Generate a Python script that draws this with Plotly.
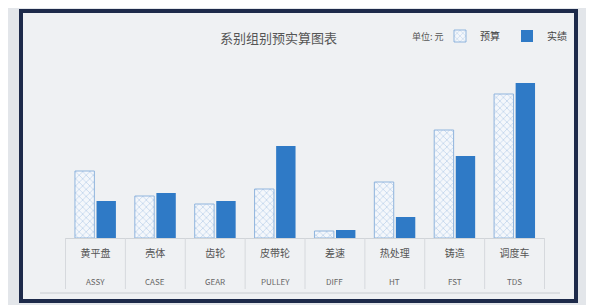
import plotly.graph_objects as go

title_text = "系别组别预实算图表"
unit_text = "单位: 元"
codes = ["ASSY", "CASE", "GEAR", "PULLEY", "DIFF", "HT", "FST", "TDS"]
names = ["黄平盘", "壳体", "齿轮", "皮带轮", "差速", "热处理", "铸造", "调度车"]
budget = [67, 42, 34, 49, 7, 56, 108, 144]
actual = [37, 45, 37, 92, 8, 21, 82, 155]

# page has 8px body margin: figure is drawn from (8,8)
OFF = 8
W, H = 594 - OFF, 305 - OFF


def fx(px):
    return (px - OFF) / W


def fy(py):
    return 1 - (py - OFF) / H


fig = go.Figure()
fig.add_trace(go.Bar(
    x=names, y=budget, name="预算",
    marker=dict(color="#f4f7fb", line=dict(color="#8fb4dd", width=1),
                pattern=dict(shape="x", fgcolor="#7fa9d8", size=5, solidity=0.25)),
))
fig.add_trace(go.Bar(
    x=names, y=actual, name="实绩",
    marker=dict(color="#2f7ac6", line=dict(width=0)),
))

base_y = 238
shapes = [
    dict(type="rect", xref="paper", yref="paper", x0=fx(21), x1=fx(576),
         y0=fy(301), y1=fy(11), line=dict(color="#1d2a4a", width=4),
         fillcolor="#eff1f3", layer="below"),
    dict(type="line", xref="paper", yref="paper", x0=fx(40), x1=fx(560),
         y0=fy(293), y1=fy(293), line=dict(color="#c8ccd0", width=1)),
]
for i in range(len(names) + 1):
    shapes.append(dict(type="line", xref="x", yref="paper", x0=i - 0.5, x1=i - 0.5,
                       y0=fy(289), y1=fy(base_y), line=dict(color="#d6d9dd", width=1)))

annotations = [
    dict(text=title_text, xref="paper", yref="paper", x=fx(278), y=fy(37),
         xanchor="center", yanchor="middle",
         showarrow=False, font=dict(size=13, color="#555")),
    dict(text=unit_text, xref="paper", yref="paper", x=fx(446), y=fy(36),
         xanchor="right", yanchor="middle", showarrow=False,
         font=dict(size=9, color="#555")),
]
for c, n in zip(codes, names):
    annotations.append(dict(text=c, xref="x", yref="paper", x=n, y=fy(281),
                            xanchor="center", yanchor="middle",
                            showarrow=False, font=dict(size=8, color="#666")))

fig.update_layout(
    width=W, height=H,
    margin=dict(l=0, r=0, t=0, b=0),
    paper_bgcolor="#e3e6ea",
    plot_bgcolor="rgba(0,0,0,0)",
    barmode="group", bargap=0.28, bargroupgap=0.1,
    font=dict(family="Noto Sans CJK SC", color="#444"),
    showlegend=True,
    legend=dict(orientation="h", x=fx(440), xanchor="left", y=fy(36), yanchor="middle",
                font=dict(size=10, color="#444"), bgcolor="rgba(0,0,0,0)",
                itemwidth=30, entrywidth=22, entrywidthmode="pixels",
                traceorder="normal"),
    xaxis=dict(domain=[fx(65), fx(545)], showline=True, linecolor="#d0d4d8",
               ticks="", tickfont=dict(size=10, color="#555"), ticklabelstandoff=6,
               showgrid=False),
    yaxis=dict(domain=[fy(base_y), fy(55)], range=[0, 183], visible=False, showgrid=False),
    shapes=shapes,
    annotations=annotations,
)
fig.write_html("out.html")
